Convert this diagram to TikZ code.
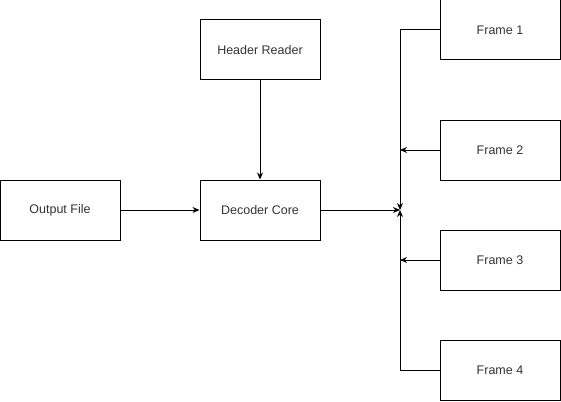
\documentclass[tikz,border=0pt]{standalone}
\usepackage{fontspec}
\setmainfont{Liberation Sans}
\usetikzlibrary{arrows.meta}
\begin{document}
\begin{tikzpicture}[x=1pt,y=-1pt,
  box/.style={draw,line width=1pt,minimum width=120pt,minimum height=60pt,inner sep=0pt,font=\fontsize{12.5}{14}\selectfont,text=black!80},
  conn/.style={line width=1pt,-{Stealth[length=7pt,width=6pt]}}]
\useasboundingbox (0,0) rectangle (561,401);
\node[box] (out) at (60,210) {Output File};
\node[box] (dec) at (260,210) {Decoder Core};
\node[box] (hdr) at (260,50) {Header Reader};
\node[box] (f1) at (500,30) {Frame 1};
\node[box] (f2) at (500,150) {Frame 2};
\node[box] (f3) at (500,260) {Frame 3};
\node[box] (f4) at (500,370) {Frame 4};
\coordinate (m) at (400,210);
\draw[conn] (out) -- (dec);
\draw[conn] (hdr) -- (dec);
\draw[conn] (dec) -- (m);
\draw[conn] (f1.west) -| (m);
\draw[conn] (f4.west) -| (m);
\draw[conn] (f2.west) -- (f2.west -| m);
\draw[conn] (f3.west) -- (f3.west -| m);
\end{tikzpicture}
\end{document}
